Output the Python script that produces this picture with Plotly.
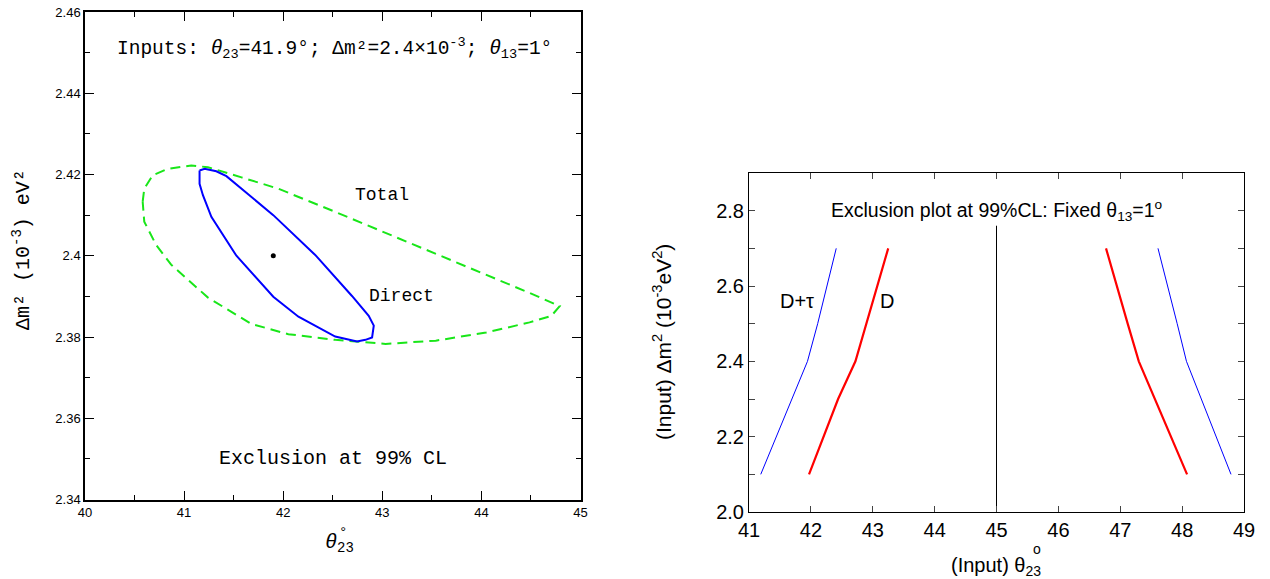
import plotly.graph_objects as go

# ---------------- data: left panel (theta23 vs dm2 contours) ----------------
direct_theta = [41.156, 41.207, 41.325, 41.427, 41.90, 42.323, 42.694, 42.863, 42.914,
                42.897, 42.83, 42.745, 42.525, 42.154, 41.90, 41.528, 41.275, 41.19, 41.156]
direct_dm2 = [2.4210, 2.4214, 2.4208, 2.4196, 2.4100, 2.4002, 2.3901, 2.3852, 2.3828,
              2.3799, 2.3793, 2.3789, 2.3801, 2.3850, 2.3899, 2.4000, 2.4096, 2.4149, 2.4177]

total_theta = [40.582, 40.598, 40.683, 40.835, 41.072, 41.241, 41.579, 41.951, 42.525,
               42.965, 43.404, 43.844, 44.216, 44.52, 44.79, 44.706, 44.486, 44.047,
               43.54, 43.033, 42.525, 42.052, 41.68, 41.241, 40.869, 40.717, 40.598]
total_dm2 = [2.4133, 2.4165, 2.4198, 2.4214, 2.4222, 2.4218, 2.4193, 2.4165, 2.4108,
             2.4063, 2.4019, 2.3974, 2.3937, 2.3905, 2.3876, 2.3852, 2.3836, 2.3811,
             2.3791, 2.3783, 2.3793, 2.3807, 2.3832, 2.3897, 2.3978, 2.4027, 2.4084]

input_theta = [41.9]
input_dm2 = [2.40]

left_xticks = [40, 41, 42, 43, 44, 45]
left_yticks = [2.34, 2.36, 2.38, 2.40, 2.42, 2.44, 2.46]
left_yticklabels = ["2.34", "2.36", "2.38", "2.4", "2.42", "2.44", "2.46"]

# ---------------- data: right panel (exclusion curves) ----------------
dm2_input = [2.1, 2.2, 2.3, 2.4, 2.5, 2.6, 2.7]
d_low = [41.97, 42.21, 42.44, 42.72, 42.90, 43.08, 43.25]
d_high = [48.08, 47.82, 47.56, 47.30, 47.12, 46.94, 46.77]
dtau_low = [41.19, 41.44, 41.69, 41.945, 42.11, 42.26, 42.41]
dtau_high = [48.79, 48.55, 48.31, 48.07, 47.92, 47.76, 47.61]
maximal_theta = [45, 45]
maximal_dm2 = [2.0, 2.76]

right_xticks = [41, 42, 43, 44, 45, 46, 47, 48, 49]
right_yticks = [2.0, 2.2, 2.4, 2.6, 2.8]

W, H = 1270, 579
OFF = 8  # page body margin in the browser
MONO = "Liberation Mono"
SANS = "Liberation Sans"

fig = go.Figure()

# left panel traces
fig.add_trace(go.Scatter(x=total_theta + total_theta[:1], y=total_dm2 + total_dm2[:1],
                         mode="lines", line=dict(color="#19e619", width=2, dash="10px,6px"),
                         xaxis="x", yaxis="y", hoverinfo="skip"))
fig.add_trace(go.Scatter(x=direct_theta + direct_theta[:1], y=direct_dm2 + direct_dm2[:1],
                         mode="lines", line=dict(color="#0000ff", width=2),
                         xaxis="x", yaxis="y", hoverinfo="skip"))
fig.add_trace(go.Scatter(x=input_theta, y=input_dm2, mode="markers",
                         marker=dict(color="black", size=5),
                         xaxis="x", yaxis="y", hoverinfo="skip"))

# right panel traces
fig.add_trace(go.Scatter(x=maximal_theta, y=maximal_dm2, mode="lines",
                         line=dict(color="black", width=1), xaxis="x2", yaxis="y2"))
for xs in (dtau_low, dtau_high):
    fig.add_trace(go.Scatter(x=xs, y=dm2_input, mode="lines",
                             line=dict(color="#0000ff", width=1), xaxis="x2", yaxis="y2"))
for xs in (d_low, d_high):
    fig.add_trace(go.Scatter(x=xs, y=dm2_input, mode="lines",
                             line=dict(color="#ff0000", width=2.2), xaxis="x2", yaxis="y2"))

def px_x(p):
    return (p - OFF) / W

def px_y(p):
    return 1 - (p - OFF) / H

common_axis = dict(showgrid=False, zeroline=False, showline=True, linecolor="black",
                   mirror="ticks", ticks="inside", automargin=False,
                   ticklabeloverflow="allow")

fig.update_layout(
    template="none",
    width=W, height=H, margin=dict(l=0, r=0, t=0, b=0, pad=0),
    paper_bgcolor="white", plot_bgcolor="white", showlegend=False,
    xaxis=dict(**common_axis, domain=[px_x(85), px_x(580.5)], range=[40, 45], anchor="y",
               tickmode="array", tickvals=left_xticks, ticklen=9, tickwidth=1, tickcolor="black",
               linewidth=1.5, tickfont=dict(family=SANS, size=13, color="black"),
               minor=dict(ticks="inside", tickmode="linear", tick0=40, dtick=0.5, ticklen=5,
                          tickcolor="black", showgrid=False)),
    yaxis=dict(**common_axis, domain=[px_y(499.5), px_y(12)], range=[2.34, 2.46], anchor="x",
               tickmode="array", tickvals=left_yticks, ticktext=left_yticklabels,
               ticklen=9, tickwidth=1, tickcolor="black", linewidth=1.5,
               tickfont=dict(family=SANS, size=13, color="black"),
               minor=dict(ticks="inside", tickmode="linear", tick0=2.34, dtick=0.01, ticklen=5,
                          tickcolor="black", showgrid=False)),
    xaxis2=dict(**common_axis, domain=[px_x(749), px_x(1244)], range=[41, 49], anchor="y2",
                tickmode="array", tickvals=right_xticks, ticklen=6, tickwidth=1,
                tickcolor="#444", linewidth=1,
                tickfont=dict(family=SANS, size=20, color="black")),
    yaxis2=dict(**common_axis, domain=[px_y(512), px_y(173)], range=[2.0, 2.9], anchor="x2",
                tickmode="array", tickvals=right_yticks, tickformat=".1f", ticklen=6,
                tickwidth=1, tickcolor="#444", linewidth=1,
                tickfont=dict(family=SANS, size=20, color="black"),
                minor=dict(ticks="inside", tickmode="linear", tick0=2.0, dtick=0.1, ticklen=6,
                           tickcolor="#444", showgrid=False)),
)

ann = []

def add_ann(x, y, text, family, size, xref="paper", yref="paper", angle=0):
    ann.append(dict(x=x, y=y, xref=xref, yref=yref, showarrow=False, text=text,
                    textangle=angle, xanchor="center", yanchor="middle",
                    font=dict(family=family, size=size, color="black")))

# left panel labels
add_ann(42.52, 2.4511,
        "Inputs: <i>θ</i><sub>23</sub>=41.9°; Δm²=2.4×10<sup>-3</sup>; <i>θ</i><sub>13</sub>=1°",
        MONO, 19.5, "x", "y")
add_ann(43.0, 2.4150, "Total", MONO, 18, "x", "y")
add_ann(43.19, 2.3900, "Direct", MONO, 18, "x", "y")
add_ann(42.5, 2.3500, "Exclusion at 99% CL", MONO, 20, "x", "y")
add_ann(px_x(22), px_y(250), "Δm² (10<sup>-3</sup>) eV²", MONO, 20, angle=-90)
add_ann(px_x(339), px_y(543), "<i>θ</i><sub>23</sub>", MONO, 20)
add_ann(px_x(343), px_y(533), "°", MONO, 14)
# right panel labels
add_ann(45.0, 2.80, "Exclusion plot at 99%CL: Fixed θ<sub>13</sub>=1<sup>o</sup>", SANS, 19.5, "x2", "y2")
add_ann(41.77, 2.56, "D+τ", SANS, 20, "x2", "y2")
add_ann(43.23, 2.56, "D", SANS, 20, "x2", "y2")
add_ann(px_x(662), px_y(342), "(Input) Δm<sup>2</sup> (10<sup>-3</sup>eV<sup>2</sup>)", SANS, 21, angle=-90)
add_ann(px_x(996), px_y(566), "(Input) θ<sub>23</sub>", SANS, 20)
add_ann(px_x(1037), px_y(549), "o", SANS, 14)
fig.update_layout(annotations=ann)

fig.write_html("out.html")
